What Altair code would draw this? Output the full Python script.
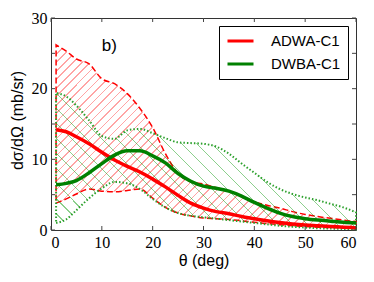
import altair as alt
import pandas as pd

# ---- data ----
theta = [1, 3, 5, 7.5, 10, 12.5, 15, 17.5, 20, 22.5, 25, 27.5, 30, 32.5, 35,
         37.5, 40, 42.5, 45, 47.5, 50, 52.5, 55, 57.5, 60]
adwa = [14.2, 13.9, 13.2, 12.2, 11.0, 9.9, 9.0, 8.2, 7.2, 6.1, 4.9, 3.8, 3.1,
        2.6, 2.3, 1.9, 1.6, 1.3, 1.05, 0.85, 0.7, 0.6, 0.5, 0.4, 0.3]
dwba = [6.4, 6.6, 7.0, 8.1, 9.4, 10.6, 11.2, 11.2, 10.5, 9.5, 8.0, 6.9, 6.2,
        5.9, 5.5, 4.8, 3.9, 3.1, 2.4, 1.9, 1.6, 1.4, 1.25, 1.1, 1.0]
adwa_hi = [26.2, 25.3, 24.2, 23.5, 21.4, 20.7, 19.3, 17.2, 14.5, 10.8, 8.0, 6.8,
           6.5, 6.0, 5.5, 4.7, 4.0, 3.5, 3.1, 2.6, 2.2, 1.9, 1.65, 1.4, 1.2]
adwa_lo = [3.8, 4.4, 5.1, 5.8, 5.5, 5.4, 5.6, 5.8, 4.5, 3.2, 2.4, 2.0, 1.7,
           1.6, 1.5, 1.3, 1.1, 0.9, 0.75, 0.6, 0.5, 0.4, 0.35, 0.3, 0.25]
dwba_hi = [19.4, 18.9, 17.6, 15.5, 13.3, 12.9, 14.1, 14.3, 13.7, 13.0, 12.4,
           12.3, 12.2, 11.8, 10.8, 9.4, 8.1, 6.8, 5.8, 5.1, 4.6, 4.2, 3.7, 3.2, 2.5]
dwba_lo = [1.0, 1.5, 2.8, 4.5, 5.9, 6.8, 6.6, 5.8, 4.4, 3.2, 2.4, 2.0, 1.8,
           1.6, 1.4, 1.2, 1.0, 0.8, 0.6, 0.45, 0.35, 0.25, 0.2, 0.15, 0.1]

series = ["ADWA-C1", "DWBA-C1"]
colors = ["#ff0000", "#008000"]
x_ticks = [0, 10, 20, 30, 40, 50, 60]
y_ticks = [0, 5, 10, 15, 20, 25, 30]
panel_label = "b)"

W, H = 305, 212

band = pd.DataFrame({"theta": theta, "a_lo": adwa_lo, "a_hi": adwa_hi,
                     "d_lo": dwba_lo, "d_hi": dwba_hi})
lines = pd.DataFrame({
    "theta": theta * 2,
    "value": adwa + dwba,
    "model": [series[0]] * len(theta) + [series[1]] * len(theta),
})
xt = pd.DataFrame({"t": x_ticks})
yt = pd.DataFrame({"t": y_ticks})
lab = pd.DataFrame({"theta": [10], "y": [26], "label": [panel_label]})

xs = alt.Scale(domain=[0, 60], nice=False, zero=False)
ys = alt.Scale(domain=[0, 30], nice=False, zero=False)


def hatch(color, n, frac, x1, y1, x2, y2):
    clear = "rgba(255,255,255,0)"
    stops = []
    for k in range(n):
        a = k / n
        b = (k + frac) / n
        c = (k + 1) / n
        stops += [{"offset": a, "color": color}, {"offset": b, "color": color},
                  {"offset": b, "color": clear}, {"offset": c, "color": clear}]
    return {"gradient": "linear", "x1": x1, "y1": y1, "x2": x2, "y2": y2,
            "stops": stops}


# "//" hatch for the red band, sparse "\\" hatch for the green band
# (gradient vectors in bounding-box units, chosen so stripes sit near 45 deg)
red_fill = hatch("rgba(255,40,40,0.42)", 57, 0.2, 0, 0, 1.173, 0.716)
green_fill = hatch("rgba(0,150,0,0.45)", 29, 0.09, 0, 1, 1.206, 0.454)

xaxis = alt.Axis(values=x_ticks, title="θ (deg)", titleY=30,
                 titleBaseline="middle")
yaxis = alt.Axis(values=y_ticks, title="dσ/dΩ (mb/sr)", titleX=-34,
                 titleY=102, titleBaseline="middle", titleAlign="center")

red_band = alt.Chart(band).mark_area(
    fill=red_fill, opacity=1, stroke="#ff0000", strokeWidth=1.5,
    strokeDash=[6, 3], interpolate="monotone"
).encode(
    x=alt.X("theta:Q", scale=xs, axis=xaxis),
    y=alt.Y("a_lo:Q", scale=ys, axis=yaxis),
    y2="a_hi:Q",
)

green_band = alt.Chart(band).mark_area(
    fill=green_fill, opacity=1, stroke="#2ca02c", strokeWidth=2,
    strokeDash=[1.5, 2], interpolate="monotone"
).encode(
    x=alt.X("theta:Q", scale=xs),
    y=alt.Y("d_lo:Q", scale=ys),
    y2="d_hi:Q",
)

main = alt.Chart(lines).mark_line(strokeWidth=3.5, interpolate="monotone").encode(
    x=alt.X("theta:Q", scale=xs),
    y=alt.Y("value:Q", scale=ys),
    color=alt.Color("model:N", scale=alt.Scale(domain=series, range=colors),
                    legend=alt.Legend(title=None, orient="top-right", offset=8,
                                      symbolType="stroke", symbolSize=676,
                                      symbolStrokeWidth=3, clipHeight=16,
                                      rowPadding=7, labelOffset=16,
                                      labelFontSize=15,
                                      labelFont="Liberation Sans",
                                      strokeColor="black", fillColor="white",
                                      padding=7, cornerRadius=0)),
)

text = alt.Chart(lab).mark_text(align="left", baseline="middle", fontSize=17,
                                font="Liberation Sans", color="black").encode(
    x=alt.X("theta:Q", scale=xs), y=alt.Y("y:Q", scale=ys), text="label:N")

tc = "#444444"
tb = alt.Chart(xt).mark_rule(color=tc).encode(
    x=alt.X("t:Q", scale=xs), y=alt.value(H), y2=alt.value(H - 4))
tt = alt.Chart(xt).mark_rule(color=tc).encode(
    x=alt.X("t:Q", scale=xs), y=alt.value(0), y2=alt.value(4))
tl = alt.Chart(yt).mark_rule(color=tc).encode(
    y=alt.Y("t:Q", scale=ys), x=alt.value(0), x2=alt.value(4))
tr = alt.Chart(yt).mark_rule(color=tc).encode(
    y=alt.Y("t:Q", scale=ys), x=alt.value(W - 4), x2=alt.value(W))

chart = alt.layer(red_band, green_band, main, text, tb, tt, tl, tr).properties(
    width=W, height=H,
    autosize=alt.AutoSizeParams(type="none"),
    padding={"left": 43, "top": 10, "right": 6, "bottom": 40},
).configure_view(
    stroke="#333333", strokeWidth=1
).configure_axis(
    grid=False, domain=False, ticks=False, labelPadding=4,
    labelFont="Liberation Serif", labelFontSize=16, labelColor="black",
    titleFont="Liberation Sans", titleFontSize=16, titleFontWeight="normal",
    titleColor="black"
).configure_axisY(labelPadding=4)

chart.save("out.html", embed_options={"renderer": "svg", "actions": False})
